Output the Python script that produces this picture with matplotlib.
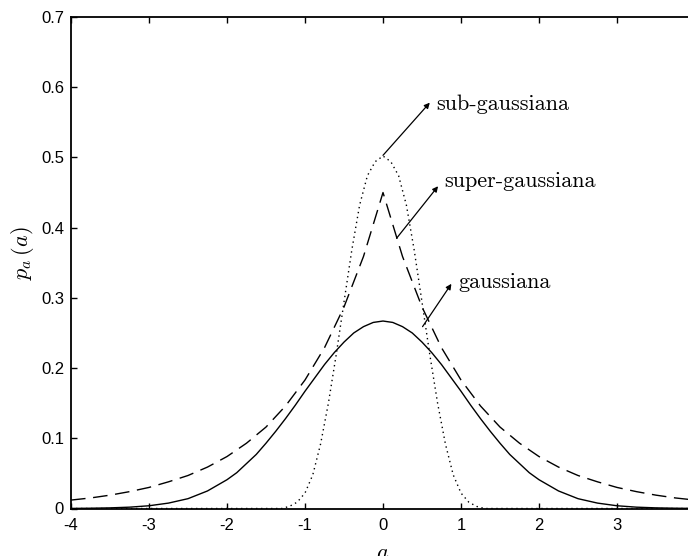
import numpy as np
import matplotlib.pyplot as plt

# values (symmetric curves, listed for a >= 0)
a_gauss = [0.0, 0.125, 0.25, 0.375, 0.5, 0.625, 0.75, 0.875, 1.0, 1.125,
           1.25, 1.375, 1.5, 1.625, 1.75, 1.875, 2.0, 2.25, 2.5, 2.75,
           3.0, 3.25, 3.5, 3.75, 4.0]
p_gauss = [0.267, 0.265, 0.259, 0.250, 0.237, 0.222, 0.205, 0.186, 0.167,
           0.147, 0.128, 0.110, 0.093, 0.077, 0.064, 0.051, 0.041,
           0.025, 0.014, 0.0077, 0.0039, 0.0019, 0.0009, 0.0004, 0.0001]

a_super = [0.0, 0.25, 0.5, 0.75, 1.0, 1.25, 1.5, 1.75, 2.0, 2.25, 2.5, 2.75,
           3.0, 3.25, 3.5, 3.75, 4.0]
p_super = [0.450, 0.359, 0.287, 0.229, 0.183, 0.146, 0.116, 0.093, 0.074,
           0.059, 0.047, 0.038, 0.030, 0.024, 0.019, 0.015, 0.012]

a_sub = [0.0, 0.1, 0.2, 0.3, 0.4, 0.5, 0.6, 0.7, 0.8, 0.9, 1.0, 1.1, 1.2,
         1.3, 2.0, 3.0, 4.0]
p_sub = [0.502, 0.494, 0.474, 0.432, 0.368, 0.294, 0.219, 0.150, 0.092,
         0.048, 0.022, 0.009, 0.003, 0.0, 0.0, 0.0, 0.0]

x_ticks = [-4, -3, -2, -1, 0, 1, 2, 3, 4]
y_ticks = [0, 0.1, 0.2, 0.3, 0.4, 0.5, 0.6, 0.7]
y_tick_labels = ['0', '0.1', '0.2', '0.3', '0.4', '0.5', '0.6', '0.7']

# annotations: (label, arrow tail on curve, arrow head, text position)
notes = [
    ('sub-gaussiana', (0.0, 0.503), (0.60, 0.578), (0.686, 0.576)),
    ('super-gaussiana', (0.175, 0.385), (0.706, 0.459), (0.79, 0.466)),
    ('gaussiana', (0.507, 0.259), (0.877, 0.320), (0.97, 0.322)),
]


def mirror(xs, ys):
    xs = np.asarray(xs)
    ys = np.asarray(ys)
    return np.concatenate([-xs[:0:-1], xs]), np.concatenate([ys[:0:-1], ys])


plt.rcParams['mathtext.fontset'] = 'cm'
plt.rcParams['font.family'] = ['Liberation Sans', 'DejaVu Sans']

fig = plt.figure(figsize=(6.88, 5.56), dpi=100)
ax = fig.add_axes([71 / 688, 47.5 / 556, 624 / 688, 491.5 / 556])

x, y = mirror(a_gauss, p_gauss)
ax.plot(x, y, color='black', lw=1.0, solid_joinstyle='round')
x, y = mirror(a_super, p_super)
ax.plot(x, y, color='black', lw=1.0, dashes=(10.5, 5.5))
x, y = mirror(a_sub, p_sub)
ax.plot(x, y, color='black', lw=1.0, dashes=(1.0, 2.6))

ax.set_xlim(-4, 4)
ax.set_ylim(0, 0.7)
ax.set_xticks(x_ticks)
ax.set_xticklabels([str(t) for t in x_ticks])
ax.set_yticks(y_ticks)
ax.set_yticklabels(y_tick_labels)
ax.tick_params(direction='in', length=4.5, width=1.0, labelsize=12,
               top=True, right=True, pad=5)
ax.tick_params(axis='x', pad=7)
for s in ax.spines.values():
    s.set_linewidth(1.3)

for label, tail, head, pos in notes:
    ax.annotate('', xy=head, xytext=tail,
                arrowprops=dict(arrowstyle='-|>', color='black', lw=0.9,
                                mutation_scale=8, shrinkA=0, shrinkB=0))
    ax.text(pos[0], pos[1], label, family='cmr10', fontsize=16,
            ha='left', va='center')

fig.text(23 / 688, 1 - 253 / 556, r'$p_a\,(a)$', rotation=90,
         ha='center', va='center', fontsize=16)
fig.text(383 / 688, 1 - 543 / 556, r'$a$', ha='center', va='top', fontsize=16)

fig.savefig('out.png', dpi=100)
